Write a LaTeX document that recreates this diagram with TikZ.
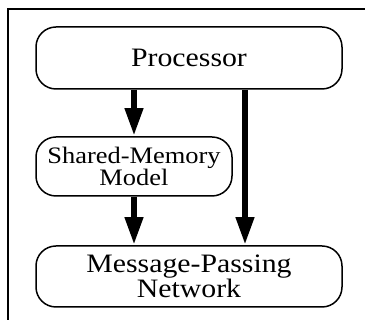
\documentclass[tikz,border=0pt]{standalone}
\usepackage{fontspec}
\setmainfont{Liberation Serif}[FakeStretch=1.12]
\usetikzlibrary{arrows.meta}
\begin{document}
\begin{tikzpicture}[x=1pt,y=1pt,
  layer/.style={draw, line width=1.5pt, rounded corners=20pt, inner sep=0pt,
    align=center},
  bigtext/.style={font=\fontsize{26.6}{25}\selectfont},
  smalltext/.style={font=\fontsize{23.6}{22.5}\selectfont},
  flow/.style={line width=6.5pt,
    -{Triangle[width=17pt,length=28pt]}}]
  \useasboundingbox (0,0) rectangle (365,320);
  % outer frame (runs off the right and bottom edges)
  \draw[line width=2pt] (8,-5) -- (8,311) -- (370,311);
  % layers
  \node[layer, bigtext, minimum width=306pt, minimum height=62pt]
    (proc) at (189,262) {Processor};
  \node[layer, smalltext, minimum width=196pt, minimum height=59pt]
    (shm) at (134,153.5) {Shared-Memory\\Model};
  \node[layer, bigtext, minimum width=306pt, minimum height=61pt]
    (mp) at (189,43.5) {Message-Passing\\Network};
  % dependencies
  \draw[flow] (proc.south -| shm.north) -- (shm.north);
  \draw[flow] (shm.south) -- (mp.north -| shm.south);
  \draw[flow] ([xshift=56pt]proc.south) -- ([xshift=56pt]mp.north);
\end{tikzpicture}
\end{document}
